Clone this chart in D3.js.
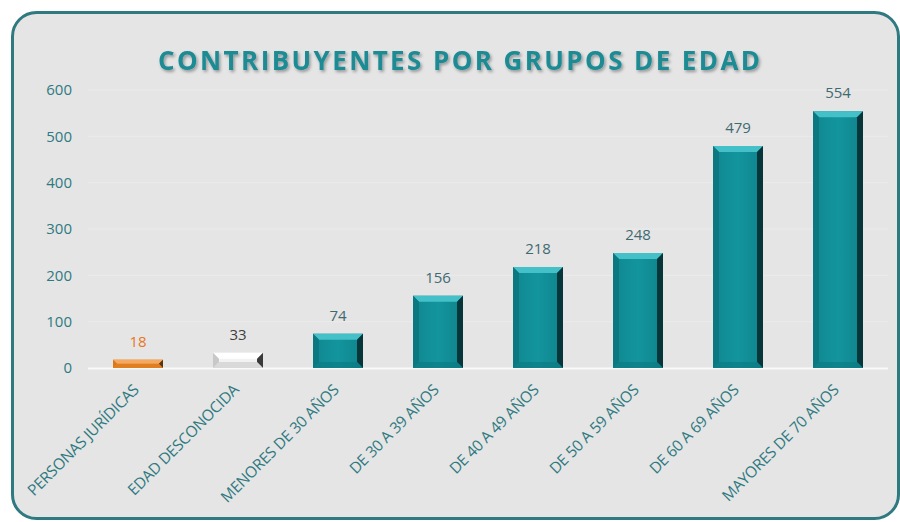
<!DOCTYPE html>
<html>
<head>
<meta charset="utf-8">
<script src="https://cdn.jsdelivr.net/npm/d3@7"></script>
<style>
  body { margin: 0; background: #fff; }
  text { font-family: "Open Sans", "DejaVu Sans", sans-serif; }
</style>
</head>
<body>
<div id="chart"></div>
<script>
// datos
var categorias = ["PERSONAS JURÍDICAS", "EDAD DESCONOCIDA", "MENORES DE 30 AÑOS",
  "DE 30 A 39 AÑOS", "DE 40 A 49 AÑOS", "DE 50 A 59 AÑOS", "DE 60 A 69 AÑOS", "MAYORES DE 70 AÑOS"];
var valores = [18, 33, 74, 156, 218, 248, 479, 554];
var ticks = [0, 100, 200, 300, 400, 500, 600];

var W = 900, H = 522;
var svg = d3.select("#chart").append("svg")
  .attr("width", W).attr("height", H);

var defs = svg.append("defs");

// sombra del titulo
var f = defs.append("filter").attr("id", "sombra").attr("x", "-5%").attr("y", "-30%").attr("width", "110%").attr("height", "160%");
f.append("feDropShadow").attr("dx", 1.5).attr("dy", 2).attr("stdDeviation", 1.5)
  .attr("flood-color", "#000").attr("flood-opacity", 0.35);

// degradado de la cara de las barras
var gr = defs.append("linearGradient").attr("id", "caraTeal").attr("x1", 0).attr("x2", 1).attr("y1", 0).attr("y2", 0);
gr.append("stop").attr("offset", "0%").attr("stop-color", "#0f8790");
gr.append("stop").attr("offset", "50%").attr("stop-color", "#13959e");
gr.append("stop").attr("offset", "100%").attr("stop-color", "#0e838c");

// marco
svg.append("rect")
  .attr("x", 12.5).attr("y", 12.5).attr("width", 886).attr("height", 506)
  .attr("rx", 24).attr("ry", 24)
  .attr("fill", "#e6e5e6").attr("stroke", "#2e7a80").attr("stroke-width", 3);

// titulo
svg.append("text")
  .attr("x", 459).attr("y", 70)
  .attr("text-anchor", "middle")
  .attr("font-size", 26).attr("font-weight", "bold")
  .attr("fill", "#1c8b94")
  .attr("textLength", 602).attr("lengthAdjust", "spacing")
  .attr("filter", "url(#sombra)")
  .text("CONTRIBUYENTES POR GRUPOS DE EDAD");

var x = d3.scaleBand().domain(categorias).range([88, 888]).paddingInner(0.5).paddingOuter(0.25);
var y = d3.scaleLinear().domain([0, 600]).range([368, 90]);

// lineas de cuadricula
svg.append("g").selectAll("line").data(ticks.slice(1)).join("line")
  .attr("x1", 88).attr("x2", 888)
  .attr("y1", function(d) { return y(d); }).attr("y2", function(d) { return y(d); })
  .attr("stroke", "#ebebeb").attr("stroke-width", 1);

// eje y
var ejeY = svg.append("g")
  .attr("transform", "translate(88,0)")
  .call(d3.axisLeft(y).tickValues(ticks).tickSize(0).tickPadding(16));
ejeY.select(".domain").remove();
ejeY.selectAll("text")
  .attr("font-size", 15).attr("fill", "#2e7a80")
  .style("font-family", "'Open Sans', sans-serif");

// linea base
svg.append("line")
  .attr("x1", 88).attr("x2", 888).attr("y1", y(0) + 0.5).attr("y2", y(0) + 0.5)
  .attr("stroke", "#fafafa").attr("stroke-width", 2);

// colores de cada barra
function paleta(i) {
  if (i == 0) return { cara: "#e8882a", arriba: "#f4a860", izq: "#d9791c", der: "#5a3410", txt: "#e87722" };
  if (i == 1) return { cara: "#f2f2f2", arriba: "#ffffff", izq: "#c8c8c8", der: "#3a3a3a", txt: "#404040" };
  return { cara: "url(#caraTeal)", arriba: "#43c0c8", izq: "#0c7880", der: "#06353a", txt: "#3f6a70" };
}

var barras = svg.append("g").selectAll("g").data(valores).join("g");

barras.each(function(v, i) {
  var g = d3.select(this);
  var c = paleta(i);
  var x0 = x(categorias[i]), w = x.bandwidth();
  var y0 = y(v), y1 = y(0);
  var b = Math.min(6, (y1 - y0) / 2);
  var x1 = x0 + w;

  // cara frontal
  g.append("rect").attr("x", x0).attr("y", y0).attr("width", w).attr("height", y1 - y0)
    .attr("fill", c.cara);
  // bisel superior
  g.append("path")
    .attr("d", "M" + x0 + "," + y0 + "L" + x1 + "," + y0 + "L" + (x1 - b) + "," + (y0 + b) + "L" + (x0 + b) + "," + (y0 + b) + "Z")
    .attr("fill", c.arriba);
  // bisel izquierdo
  g.append("path")
    .attr("d", "M" + x0 + "," + y0 + "L" + (x0 + b) + "," + (y0 + b) + "L" + (x0 + b) + "," + (y1 - b) + "L" + x0 + "," + y1 + "Z")
    .attr("fill", c.izq);
  // bisel derecho
  g.append("path")
    .attr("d", "M" + x1 + "," + y0 + "L" + (x1 - b) + "," + (y0 + b) + "L" + (x1 - b) + "," + (y1 - b) + "L" + x1 + "," + y1 + "Z")
    .attr("fill", c.der);
  // bisel inferior
  g.append("path")
    .attr("d", "M" + x0 + "," + y1 + "L" + (x0 + b) + "," + (y1 - b) + "L" + (x1 - b) + "," + (y1 - b) + "L" + x1 + "," + y1 + "Z")
    .attr("fill", c.izq).attr("opacity", 0.6);

  // etiqueta de valor
  g.append("text")
    .attr("x", x0 + w / 2).attr("y", y0 - 13)
    .attr("text-anchor", "middle")
    .attr("font-size", 15).attr("fill", c.txt)
    .text(v);
});

// etiquetas de categorias
svg.append("g").selectAll("text").data(categorias).join("text")
  .attr("transform", function(d) { return "translate(" + (x(d) + x.bandwidth() / 2 - 2) + ",387) rotate(-45)"; })
  .attr("text-anchor", "end")
  .attr("dy", "0.35em")
  .attr("font-size", 15.5).attr("fill", "#2e7a80")
  .attr("letter-spacing", "-0.3")
  .text(function(d) { return d; });
</script>
</body>
</html>
